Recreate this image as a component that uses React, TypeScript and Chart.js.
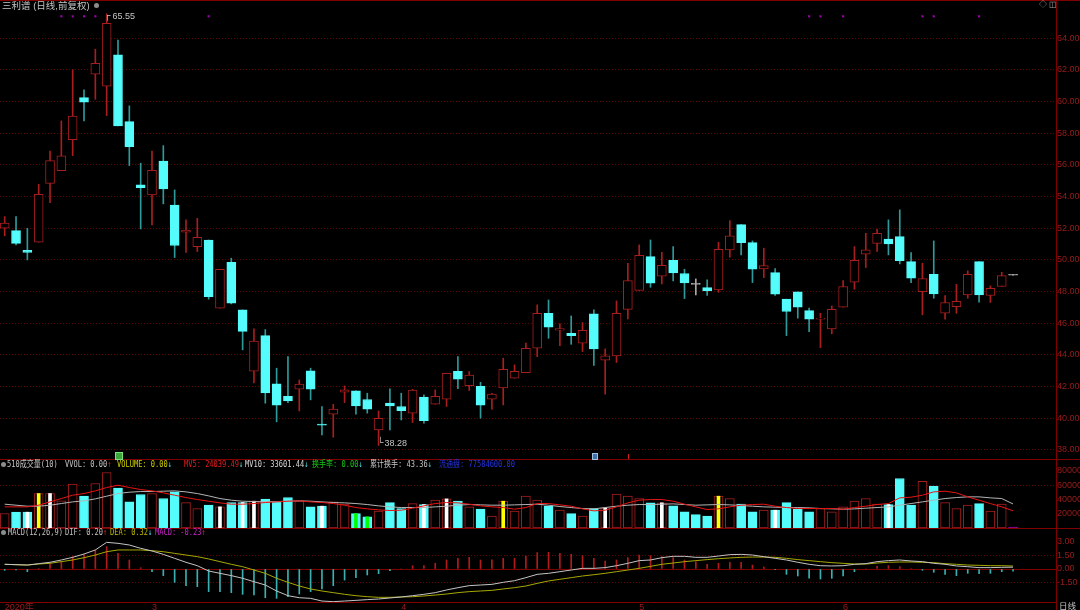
import React, { useEffect, useRef } from "react";
import { Chart, registerables } from "chart.js";

Chart.register(...registerables);

// ---------------- data ----------------
const opens = [
  52.0, 51.85, 50.6, 51.12, 54.84, 55.64, 57.6, 60.25, 61.73, 60.97,
  62.95, 58.74, 54.74, 54.11, 56.25, 53.47, 51.75, 50.84, 51.26, 46.95,
  49.85, 46.84, 42.97, 45.22, 42.17, 41.39, 41.83, 42.99, 39.57, 40.25,
  41.64, 41.73, 41.18, 39.26, 40.95, 40.74, 40.32, 41.33, 40.88, 41.2,
  42.97, 42.06, 42.02, 41.2, 41.92, 42.53, 42.88, 44.42, 46.63, 45.56,
  45.37, 44.74, 46.59, 43.66, 43.94, 46.88, 48.08, 50.21, 48.97, 49.98,
  49.14, 48.46, 48.25, 48.11, 50.63, 52.23, 51.09, 49.43, 49.2, 47.52,
  47.98, 46.8, 46.26, 45.64, 47.01, 48.59, 50.36, 51.05, 51.31, 51.47,
  49.89, 48.0, 49.09, 46.63, 47.05, 47.79, 49.89, 47.75, 48.32, 49.03,
];
const highs = [
  52.74, 52.74, 52.0, 54.78, 56.88, 58.78, 62.0, 60.74, 63.31, 65.55,
  63.89, 59.73, 56.11, 56.88, 57.22, 54.42, 52.53, 52.63, 51.26, 49.41,
  50.11, 46.84, 45.64, 45.6, 43.16, 43.89, 42.42, 43.16, 40.74, 40.88,
  42.04, 41.73, 41.58, 40.46, 41.85, 41.58, 41.83, 41.47, 41.79, 42.84,
  43.89, 42.95, 42.27, 41.58, 43.79, 43.37, 44.74, 47.16, 47.47, 45.96,
  46.46, 46.04, 46.84, 44.38, 47.41, 49.79, 50.95, 51.26, 50.48, 50.84,
  49.41, 48.8, 48.74, 51.12, 52.48, 52.23, 51.2, 50.74, 49.45, 47.52,
  47.98, 46.95, 46.63, 47.09, 48.69, 50.84, 51.68, 51.94, 52.53, 53.16,
  50.46, 49.79, 51.2, 47.75, 48.46, 49.31, 49.89, 48.36, 49.22, 49.03,
];
const lows = [
  51.52, 50.95, 50.0, 51.12, 53.62, 55.64, 56.59, 58.78, 60.15, 59.12,
  58.46, 55.96, 51.96, 52.21, 53.54, 50.15, 50.48, 50.53, 47.52, 46.95,
  47.22, 44.32, 42.23, 40.95, 39.77, 40.99, 40.46, 41.16, 38.95, 38.8,
  40.99, 40.25, 40.32, 38.28, 39.26, 39.89, 39.73, 39.68, 40.88, 40.74,
  41.87, 41.75, 40.0, 40.57, 40.84, 42.53, 42.88, 43.89, 45.05, 44.59,
  44.67, 44.21, 43.33, 41.52, 43.52, 46.27, 48.08, 48.27, 48.48, 48.67,
  47.56, 47.79, 47.75, 47.96, 50.17, 50.32, 48.57, 48.88, 47.75, 45.22,
  46.32, 45.47, 44.46, 45.33, 47.01, 48.15, 49.52, 50.53, 50.32, 49.75,
  48.57, 46.53, 47.58, 46.25, 46.63, 47.58, 47.33, 47.31, 48.32, 49.03,
];
const closes = [
  52.32, 51.05, 50.47, 54.15, 56.27, 56.57, 59.09, 59.96, 62.42, 64.95,
  58.46, 57.16, 54.57, 55.66, 54.48, 50.91, 51.89, 51.43, 47.68, 49.41,
  47.26, 45.49, 44.88, 41.6, 40.82, 41.09, 42.15, 41.83, 39.56, 40.57,
  41.79, 40.78, 40.57, 40.0, 40.78, 40.48, 41.77, 39.85, 41.39, 42.84,
  42.46, 42.72, 40.82, 41.52, 43.09, 42.97, 44.42, 46.63, 45.75, 45.66,
  45.22, 45.56, 44.38, 43.94, 46.63, 48.69, 50.29, 48.53, 49.66, 49.18,
  48.55, 48.46, 48.06, 50.67, 51.52, 51.09, 49.41, 49.64, 47.83, 46.74,
  47.01, 46.25, 46.27, 46.88, 48.32, 49.98, 50.63, 51.68, 51.01, 49.96,
  48.84, 48.82, 47.85, 47.31, 47.39, 49.09, 47.79, 48.21, 49.01, 49.03,
];
const volumes = [
  20300, 22100, 22100, 48200, 48200, 37900, 61300, 44500, 62200, 77600,
  55700, 36500, 46800, 48200, 41200, 50500, 35600, 27200, 31900, 29600,
  35600, 35600, 37500, 40300, 36500, 42600, 37900, 29600, 30500, 36500,
  33300, 20200, 15600, 23500, 35600, 27200, 34200, 32800, 38900, 40700,
  37500, 29600, 26300, 16500, 37500, 23500, 44500, 38900, 30500, 24900,
  20200, 16500, 27200, 28200, 47300, 44500, 41200, 35200, 35200, 31000,
  22600, 18800, 16500, 44500, 41200, 33300, 22600, 24900, 24900, 35600,
  26300, 22600, 27200, 22600, 29600, 37500, 41200, 33300, 32800, 69200,
  31900, 65400, 58500, 35600, 27200, 31900, 34200, 23500, 33300, 1200,
];
const volMA5 = [
  29560, 29560, 29560, 31890, 36550, 41210, 45870, 48200, 51930, 56600,
  59860, 56600, 53800, 51930, 49140, 45870, 42610, 39810, 37480, 35150,
  33290, 33290, 34220, 35620, 36550, 37480, 37950, 36550, 35620, 34220,
  31890, 28620, 26760, 25360, 24430, 24900, 27690, 30960, 34220, 35620,
  35150, 33290, 30960, 29560, 28620, 26290, 28620, 34220, 34220, 32350,
  30490, 26760, 23960, 24900, 29560, 35150, 38880, 39810, 39810, 37480,
  33290, 29560, 25830, 26760, 29560, 31890, 32820, 33290, 30490, 28620,
  27230, 27230, 27230, 27230, 26290, 28620, 30490, 32820, 34220, 42140,
  43080, 45870, 50540, 51470, 49140, 43540, 38880, 34220, 29560, 24039,
];
const volMA10 = [
  33290, 31890, 30490, 30490, 31890, 34220, 36550, 37950, 40740, 44480,
  48200, 50070, 51000, 51000, 51470, 51930, 50540, 48200, 44940, 41210,
  38880, 37480, 37010, 36550, 37010, 37480, 37950, 37480, 36550, 35620,
  35150, 34220, 32820, 30960, 29560, 28620, 28620, 28620, 29560, 30490,
  31890, 32820, 32350, 31890, 31890, 32350, 32820, 33290, 31890, 30020,
  28620, 27230, 26760, 28620, 30490, 31890, 32820, 32820, 33290, 33750,
  32820, 31890, 32350, 32820, 32350, 31420, 30490, 29560, 29090, 28620,
  28620, 28160, 27230, 26760, 26290, 26760, 27690, 28620, 29560, 31890,
  34220, 36550, 38880, 41210, 42610, 43540, 43540, 42140, 41210, 33601,
];
const difLine = [
  0.51, 0.47, 0.43, 0.58, 0.73, 0.98, 1.27, 1.63, 2.07, 2.9,
  2.79, 2.61, 2.25, 1.96, 1.59, 1.16, 0.73, 0.36, -0.22, -0.47,
  -0.72, -1.01, -1.38, -1.74, -2.39, -2.9, -3.12, -3.19, -3.48, -3.55,
  -3.48, -3.41, -3.33, -3.26, -3.15, -3.04, -2.9, -2.75, -2.57, -2.28,
  -2.03, -1.81, -1.74, -1.67, -1.45, -1.27, -0.94, -0.58, -0.47, -0.29,
  -0.11, 0.07, 0.07, 0.15, 0.36, 0.62, 0.91, 0.98, 1.23, 1.38,
  1.38, 1.27, 1.27, 1.41, 1.56, 1.59, 1.52, 1.34, 1.16, 0.98,
  0.73, 0.51, 0.36, 0.33, 0.36, 0.51, 0.58, 0.8, 0.91, 0.98,
  0.87, 0.8, 0.62, 0.51, 0.33, 0.25, 0.15, 0.15, 0.18, 0.2,
];
const deaLine = [
  0.51, 0.47, 0.43, 0.54, 0.62, 0.8, 0.98, 1.23, 1.52, 1.88,
  2.07, 2.07, 2.07, 1.99, 1.88, 1.7, 1.52, 1.34, 1.09, 0.8,
  0.51, 0.25, -0.11, -0.47, -1.01, -1.45, -1.85, -2.17, -2.39, -2.57,
  -2.75, -2.9, -3.01, -3.08, -3.08, -3.04, -3.01, -2.93, -2.83, -2.72,
  -2.57, -2.46, -2.39, -2.32, -2.17, -2.03, -1.85, -1.56, -1.3, -1.12,
  -0.94, -0.76, -0.62, -0.47, -0.29, -0.11, 0.07, 0.29, 0.51, 0.65,
  0.8, 0.91, 1.02, 1.12, 1.2, 1.27, 1.3, 1.3, 1.27, 1.16,
  1.02, 0.91, 0.8, 0.69, 0.62, 0.54, 0.54, 0.65, 0.73, 0.76,
  0.76, 0.73, 0.69, 0.58, 0.51, 0.43, 0.4, 0.36, 0.36, 0.32,
];
const macdHist = [
  -0.15, -0.1, -0.29, 0.05, 0.51, 0.8, 1.34, 1.6, 2.07, 2.43,
  1.7, 0.98, 0.14, -0.29, -0.72, -1.45, -1.81, -1.92, -2.46, -2.46,
  -2.57, -2.75, -2.83, -3.12, -3.19, -3.0, -2.72, -2.46, -2.17, -1.81,
  -1.2, -0.94, -0.65, -0.51, -0.18, 0.0, 0.36, 0.36, 0.62, 0.98,
  1.16, 1.27, 0.98, 1.01, 1.16, 1.16, 1.41, 1.78, 1.81, 1.7,
  1.6, 1.45, 1.16, 0.87, 0.98, 1.23, 1.52, 1.45, 1.34, 1.23,
  0.98, 0.8, 0.51, 0.62, 0.72, 0.72, 0.43, 0.22, -0.07, -0.58,
  -0.76, -1.01, -1.09, -1.01, -0.76, -0.29, 0.0, 0.29, 0.36, 0.25,
  0.05, -0.14, -0.36, -0.58, -0.72, -0.47, -0.51, -0.47, -0.29, -0.23,
];
const priceTicks = [38, 40, 42, 44, 46, 48, 50, 52, 54, 56, 58, 60, 62, 64];
const volumeTicks = [20000, 40000, 60000, 80000];
const volumeGrid = [60000];
const macdTicks = [-1.5, 0, 1.5, 3];
const macdGrid = [-1.5, 1.5];
const monthTickIdx = [0, 13, 35, 56, 74];
const monthLabels = ["2020年", "3", "4", "5", "6"];
const eventIdx = [5, 6, 7, 8, 18, 71, 72, 74, 81, 82, 86];
const eventLevel = 65.39;
const whiteStripeIdx = [2, 4, 19, 21, 22, 28, 37, 39, 53, 58, 68, 78];
const yellowStripeIdx = [3, 44, 63];
const greenStripeIdx = [31, 32];

// ---------------- style ----------------
const X_MIN = -0.415;
const X_MAX = 92.79;
const AXIS_W = 24;
const UP = "#a81e1e";
const CYAN = "#54fcfc";
const CYAN_WICK = "#2e9a9a";
const FLAT = "#a8a8a8";
const GRID = "#5e0404";
const AXIS_LINE = "#800000";
const AXIS_TEXT = "#9c1c1c";
const TICK_FONT = '"Liberation Sans", "Noto Sans CJK SC", sans-serif';
const TXT_FONT = '"Liberation Sans", "Noto Sans CJK SC", sans-serif';
const MONO_FONT = '"DejaVu Sans Mono", "Noto Sans CJK SC", monospace';

const kinds = opens.map((o, i) => (closes[i] > o ? "up" : closes[i] < o ? "down" : "flat"));

const xHidden = { type: "linear", min: X_MIN, max: X_MAX, offset: false, bounds: "data", display: false };

function yScale(min: number, max: number, ticks: number[], fmt: (v: number) => string, gridAt: number[]) {
  return {
    type: "linear",
    position: "right",
    min,
    max,
    bounds: "data",
    afterFit: (s: any) => {
      s.width = AXIS_W;
      s.paddingTop = 0;
      s.paddingBottom = 0;
    },
    afterBuildTicks: (s: any) => {
      s.ticks = ticks.map((v) => ({ value: v }));
    },
    ticks: {
      color: AXIS_TEXT,
      font: { family: TICK_FONT, size: 9 },
      padding: 1,
      autoSkip: false,
      callback: (v: any) => fmt(Number(v)),
    },
    grid: {
      drawTicks: false,
      lineWidth: 1,
      color: (c: any) => (c.tick && gridAt.includes(c.tick.value) ? GRID : "rgba(0,0,0,0)"),
    },
    border: { display: true, color: AXIS_LINE, width: 1, dash: [1, 2] },
  };
}

const common = {
  responsive: false,
  animation: false,
  devicePixelRatio: 1,
  events: [],
  plugins: { legend: { display: false }, tooltip: { enabled: false } },
};

function priceConfig(): any {
  return {
    type: "bar",
    data: {
      datasets: [
        {
          type: "bar",
          order: 0,
          grouped: false,
          barThickness: 9,
          minBarLength: 1,
          borderWidth: 1,
          borderSkipped: false,
          data: opens.map((o, i) => ({ x: i, y: [Math.min(o, closes[i]), Math.max(o, closes[i])] })),
          backgroundColor: kinds.map((k) => (k === "up" ? "#000000" : k === "down" ? CYAN : FLAT)),
          borderColor: kinds.map((k) => (k === "up" ? UP : k === "down" ? CYAN : FLAT)),
        },
        {
          type: "bar",
          order: 1,
          grouped: false,
          barThickness: 1,
          minBarLength: 1,
          borderWidth: 0,
          data: highs.map((h, i) => ({ x: i, y: [lows[i], h] })),
          backgroundColor: kinds.map((k) => (k === "up" ? UP : k === "down" ? CYAN_WICK : FLAT)),
        },
        {
          type: "line",
          order: -1,
          showLine: false,
          pointStyle: "rect",
          pointRadius: 1.5,
          pointBorderWidth: 0,
          pointBackgroundColor: "#a000b0",
          data: eventIdx.map((i) => ({ x: i, y: eventLevel })),
        },
      ],
    },
    options: {
      ...common,
      layout: { padding: { top: 2, bottom: 1, left: 0, right: 0 }, autoPadding: false },
      scales: {
        x: xHidden,
        y: yScale(37.424, 66.293, priceTicks, (v) => v.toFixed(2), priceTicks),
      },
    },
  };
}

function volumeConfig(): any {
  const stripes: { i: number; c: string }[] = [
    ...whiteStripeIdx.map((i) => ({ i, c: "#ffffff" })),
    ...yellowStripeIdx.map((i) => ({ i, c: "#ffff00" })),
    ...greenStripeIdx.map((i) => ({ i, c: "#00ff00" })),
  ];
  const last = volumes.length - 1;
  const volBg = kinds.map((k, i) =>
    i === last ? "#a000a0" : k === "up" ? "#000000" : k === "down" ? CYAN : closes[i] < closes[i - 1] ? CYAN : "#000000"
  );
  const volBorder = kinds.map((k, i) =>
    i === last ? "#a000a0" : k === "up" ? UP : k === "down" ? CYAN : closes[i] < closes[i - 1] ? CYAN : UP
  );
  return {
    type: "bar",
    data: {
      datasets: [
        {
          type: "line",
          order: -2,
          data: volMA5.map((v, i) => ({ x: i, y: v })),
          borderColor: "#e81414",
          borderWidth: 1,
          pointRadius: 0,
          tension: 0,
        },
        {
          type: "line",
          order: -1,
          data: volMA10.map((v, i) => ({ x: i, y: v })),
          borderColor: "#b4b4b4",
          borderWidth: 1,
          pointRadius: 0,
          tension: 0,
        },
        {
          type: "bar",
          order: 0,
          grouped: false,
          barThickness: 3,
          borderWidth: 0,
          data: stripes.map((s) => ({ x: s.i, y: volumes[s.i] })),
          backgroundColor: stripes.map((s) => s.c),
        },
        {
          type: "bar",
          order: 1,
          grouped: false,
          barThickness: 9,
          borderWidth: 1,
          borderSkipped: false,
          data: volumes.map((v, i) => ({ x: i, y: v })),
          backgroundColor: volBg,
          borderColor: volBorder,
        },
      ],
    },
    options: {
      ...common,
      layout: { padding: 0, autoPadding: false },
      scales: {
        x: xHidden,
        y: yScale(0, 96500, volumeTicks, (v) => String(Math.round(v)), volumeGrid),
      },
    },
  };
}

const zeroLine = {
  id: "zeroLine",
  beforeDatasetsDraw(chart: any) {
    const { ctx, chartArea } = chart;
    const y = Math.round(chart.scales.y.getPixelForValue(0)) + 0.5;
    ctx.save();
    ctx.strokeStyle = AXIS_LINE;
    ctx.lineWidth = 1;
    ctx.beginPath();
    ctx.moveTo(chartArea.left, y);
    ctx.lineTo(chartArea.right, y);
    ctx.stroke();
    ctx.restore();
  },
};

function macdConfig(): any {
  return {
    type: "bar",
    data: {
      datasets: [
        {
          type: "line",
          order: -2,
          data: difLine.map((v, i) => ({ x: i, y: v })),
          borderColor: "#c4c4c4",
          borderWidth: 1,
          pointRadius: 0,
          tension: 0,
        },
        {
          type: "line",
          order: -1,
          data: deaLine.map((v, i) => ({ x: i, y: v })),
          borderColor: "#a8a800",
          borderWidth: 1,
          pointRadius: 0,
          tension: 0,
        },
        {
          type: "bar",
          order: 0,
          grouped: false,
          barThickness: 1,
          borderWidth: 0,
          data: macdHist.map((v, i) => ({ x: i, y: v })),
          backgroundColor: macdHist.map((v) => (v >= 0 ? "#b01c1c" : "#3ab0b0")),
        },
      ],
    },
    options: {
      ...common,
      layout: { padding: 0, autoPadding: false },
      scales: {
        x: {
          type: "linear",
          min: X_MIN,
          max: X_MAX,
          offset: false,
          bounds: "data",
          position: "bottom",
          afterFit: (s: any) => {
            s.height = 8;
            s.paddingLeft = 0;
            s.paddingRight = 0;
          },
          afterBuildTicks: (s: any) => {
            s.ticks = monthTickIdx.map((v) => ({ value: v }));
          },
          ticks: {
            autoSkip: false,
            maxRotation: 0,
            minRotation: 0,
            align: "start",
            padding: 0,
            color: AXIS_TEXT,
            font: { family: TICK_FONT, size: 9 },
            callback: (_v: any, idx: number) => monthLabels[idx],
          },
          grid: { display: true, drawOnChartArea: false, drawTicks: false },
          border: { display: true, color: AXIS_LINE, width: 1 },
        },
        y: yScale(-3.587, 4.457, macdTicks, (v) => v.toFixed(2), macdGrid),
      },
    },
    plugins: [zeroLine],
  };
}

// ---------------- overlay text helpers ----------------
type Seg = { x: number; t: string; c: string; a?: string; ac?: string };
const RED_ARROW = "#e02020";
const CYAN_ARROW = "#50d8d8";
const GRAY_TXT = "#c4c4c4";

const volHeader: Seg[] = [
  { x: 7, t: "510成交量(10)", c: GRAY_TXT },
  { x: 65, t: "VVOL: 0.00", c: GRAY_TXT, a: "↑", ac: RED_ARROW },
  { x: 117, t: "VOLUME: 0.00", c: "#d0d000", a: "↓", ac: CYAN_ARROW },
  { x: 183.5, t: "MV5: 24039.49", c: "#e81c1c", a: "↓", ac: CYAN_ARROW },
  { x: 245, t: "MV10: 33601.44", c: "#d8d8d8", a: "↓", ac: CYAN_ARROW },
  { x: 312, t: "换手率: 0.00", c: "#14c814", a: "↓", ac: CYAN_ARROW },
  { x: 369.5, t: "累计换手: 43.36", c: GRAY_TXT, a: "↓", ac: CYAN_ARROW },
  { x: 439, t: "流通盘: 77584600.00", c: "#2434e0" },
];
const macdHeader: Seg[] = [
  { x: 7.6, t: "MACD(12,26,9)", c: GRAY_TXT },
  { x: 65.4, t: "DIF: 0.20", c: GRAY_TXT, a: "↑", ac: RED_ARROW },
  { x: 109.5, t: "DEA: 0.32", c: "#bcbc00", a: "↓", ac: CYAN_ARROW },
  { x: 155, t: "MACD: -0.23", c: "#c824c8", a: "↑", ac: RED_ARROW },
];

function Text(props: { x: number; y: number; c: string; size?: number; sx?: number; font?: string; children: any }) {
  const size = props.size ?? 9;
  return (
    <span
      style={{
        position: "absolute",
        left: props.x,
        top: props.y,
        color: props.c,
        fontSize: size,
        lineHeight: `${size + 2}px`,
        fontFamily: props.font ?? TXT_FONT,
        whiteSpace: "nowrap",
        transform: props.sx ? `scaleX(${props.sx})` : undefined,
        transformOrigin: "left center",
      }}
    >
      {props.children}
    </span>
  );
}

function Header(props: { segs: Seg[]; y: number }) {
  return (
    <>
      <div
        style={{ position: "absolute", left: 1, top: props.y + 3, width: 5, height: 5, borderRadius: 3, background: "#8c8c8c" }}
      />
      {props.segs.map((s, k) => (
        <Text key={k} x={s.x} y={props.y} c={s.c} size={9} sx={0.78} font={MONO_FONT}>
          {s.t}
          {s.a ? <span style={{ color: s.ac }}>{s.a}</span> : null}
        </Text>
      ))}
    </>
  );
}

function HLine(props: { y: number }) {
  return <div style={{ position: "absolute", left: 0, top: props.y, width: 1080, height: 1, background: AXIS_LINE }} />;
}

export default function App() {
  const priceRef = useRef<HTMLCanvasElement>(null);
  const volRef = useRef<HTMLCanvasElement>(null);
  const macdRef = useRef<HTMLCanvasElement>(null);

  useEffect(() => {
    document.body.style.margin = "0";
    document.body.style.background = "#000";
    const charts = [
      new Chart(priceRef.current as HTMLCanvasElement, priceConfig()),
      new Chart(volRef.current as HTMLCanvasElement, volumeConfig()),
      new Chart(macdRef.current as HTMLCanvasElement, macdConfig()),
    ];
    return () => charts.forEach((c) => c.destroy());
  }, []);

  return (
    <div style={{ position: "fixed", left: 0, top: 0, width: 1080, height: 610, background: "#000", overflow: "hidden" }}>
      <canvas ref={priceRef} width={1080} height={460} style={{ position: "absolute", left: 0, top: 0, width: 1080, height: 460 }} />
      <canvas ref={volRef} width={1080} height={69} style={{ position: "absolute", left: 0, top: 459, width: 1080, height: 69 }} />
      <canvas ref={macdRef} width={1080} height={82} style={{ position: "absolute", left: 0, top: 528, width: 1080, height: 82 }} />

      <HLine y={0} />
      <HLine y={459} />
      <HLine y={528} />
      <div style={{ position: "absolute", left: 1056, top: 0, width: 1, height: 610, background: AXIS_LINE }} />

      <Text x={2} y={0} c="#c4c4c4" size={9.5}>
        三利谱 (日线,前复权)
      </Text>
      <div style={{ position: "absolute", left: 94, top: 3, width: 5, height: 5, borderRadius: 3, background: "#8c8c8c" }} />
      <Text x={1039} y={0} c="#a0a0a0" size={8}>
        ◇ ◫
      </Text>

      <Text x={104} y={10} c="#c4c4c4" size={9}>┌</Text>
      <Text x={112.5} y={11} c="#c4c4c4" size={9}>65.55</Text>
      <Text x={377} y={437} c="#c4c4c4" size={9}>└</Text>
      <Text x={384.5} y={438} c="#c4c4c4" size={9}>38.28</Text>

      <div style={{ position: "absolute", left: 115, top: 452, width: 6, height: 6, background: "#38a838", border: "1px solid #80e080" }} />
      <div style={{ position: "absolute", left: 592, top: 453, width: 4, height: 5, background: "#4070a8", border: "1px solid #a0c0e0" }} />
      <div style={{ position: "absolute", left: 628, top: 454, width: 1, height: 5, background: "#d02020" }} />

      <Header segs={volHeader} y={459} />
      <Header segs={macdHeader} y={527} />

      <Text x={1059} y={601} c="#c4c4c4" size={8.5}>
        日线
      </Text>
    </div>
  );
}
